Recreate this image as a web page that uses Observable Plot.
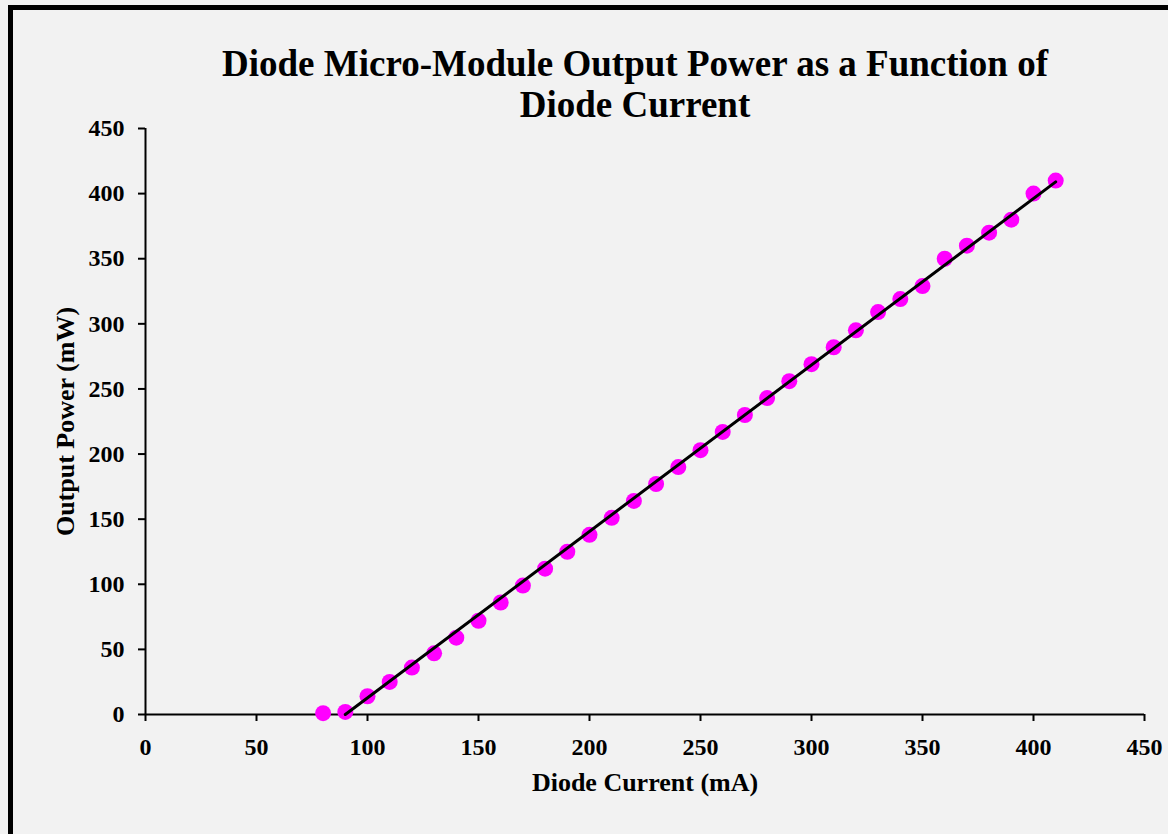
<!DOCTYPE html>
<html>
<head>
<meta charset="utf-8">
<script src="https://cdn.jsdelivr.net/npm/d3@7"></script>
<script src="https://cdn.jsdelivr.net/npm/@observablehq/plot@0.6"></script>
<style>
  html, body { margin: 0; padding: 0; background: #f2f2f2; width: 1168px; height: 834px; overflow: hidden; }
  #frame { position: absolute; left: 8px; top: 5px; width: 1200px; height: 900px; border: 5px solid #000; background: #f2f2f2; box-sizing: border-box; }
  #title { position: absolute; left: 0; width: 1270px; top: 43px; text-align: center; font-family: "Liberation Serif", "Times New Roman", serif; font-weight: bold; font-size: 37px; line-height: 41px; color: #000; }
  #chart { position: absolute; left: 0; top: 0; }
</style>
</head>
<body>
<div id="frame"></div>
<div id="chart"></div>
<div id="title">Diode Micro-Module Output Power as a Function of<br>Diode Current</div>
<script>
const current = [80, 90, 100, 110, 120, 130, 140, 150, 160, 170, 180, 190, 200, 210, 220, 230, 240, 250, 260, 270, 280, 290, 300, 310, 320, 330, 340, 350, 360, 370, 380, 390, 400, 410];
const power = [1, 2, 14, 25, 36, 47, 59, 72, 86, 99, 112, 125, 138, 151, 164, 177, 190, 203, 217, 230, 243, 256, 269, 282, 295, 309, 319, 329, 350, 360, 370, 380, 400, 410];
const fitCurrent = [90, 410];
const fitPower = [0, 409];
const ticks = [0, 50, 100, 150, 200, 250, 300, 350, 400, 450];

const pts = current.map((c, i) => ({c, p: power[i]}));
const fit = fitCurrent.map((c, i) => ({c, p: fitPower[i]}));

const font = "'Liberation Serif', 'Times New Roman', serif";

const chart = Plot.plot({
  width: 1168,
  height: 834,
  marginLeft: 145,
  marginRight: 24,
  marginTop: 128,
  marginBottom: 120,
  style: { background: "transparent", fontFamily: font, fontWeight: "bold", fontSize: "24px", color: "#000" },
  x: { domain: [0, 450], ticks: ticks },
  y: { domain: [0, 450], ticks: ticks },
  marks: [
    Plot.axisX({ ticks: ticks, tickSize: 7, tickPadding: 16, stroke: "#000", strokeWidth: 2, fill: "#000", label: null, fontSize: 24, fontWeight: "bold" }),
    Plot.axisY({ ticks: ticks, tickSize: 7, tickPadding: 14, stroke: "#000", strokeWidth: 2, fill: "#000", label: null, fontSize: 24, fontWeight: "bold" }),
    Plot.axisX({ ticks: [], tickSize: 0, label: "Diode Current (mA)", labelAnchor: "center", labelOffset: 76, labelArrow: "none", fontSize: 26, fontWeight: "bold", fill: "#000" }),
    Plot.axisY({ ticks: [], tickSize: 0, label: "Output Power (mW)", labelAnchor: "center", labelOffset: 90, labelArrow: "none", fontSize: 26, fontWeight: "bold", fill: "#000" }),
    Plot.ruleY([0], { stroke: "#000", strokeWidth: 2 }),
    Plot.ruleX([0], { stroke: "#000", strokeWidth: 2 }),
    Plot.dot(pts, { x: "c", y: "p", r: 8, fill: "#ff00ff", stroke: "none" }),
    Plot.line(fit, { x: "c", y: "p", stroke: "#000", strokeWidth: 3 })
  ]
});
document.getElementById("chart").appendChild(chart);
</script>
</body>
</html>
